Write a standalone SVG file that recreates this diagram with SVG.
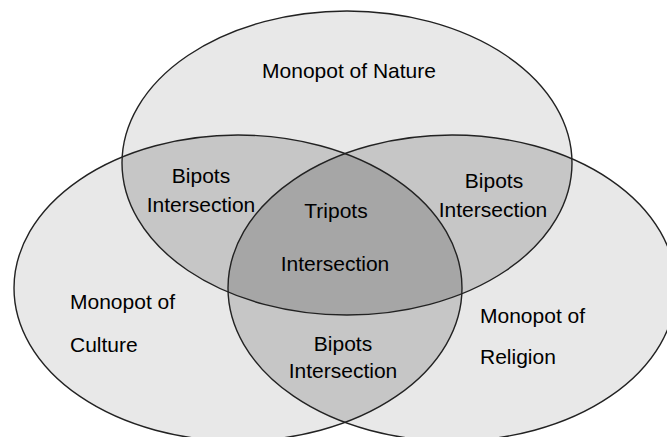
<svg xmlns="http://www.w3.org/2000/svg" width="667" height="437" viewBox="0 0 667 437">
<style>
.base{fill:#e8e8e8;stroke:none}
.bi{fill:#c6c6c6;stroke:none}
.tri{fill:#a6a6a6;stroke:none}
.edge{fill:none;stroke:#222;stroke-width:1.4}
text{font-family:"Liberation Sans",Arial,sans-serif;font-size:21px;fill:#000;text-anchor:middle}
</style>
<defs>
<ellipse id="eN" cx="347" cy="163" rx="225" ry="152"/>
<ellipse id="eC" cx="238" cy="288" rx="224" ry="153"/>
<ellipse id="eR" cx="452" cy="288" rx="224" ry="153"/>
<clipPath id="cN"><use href="#eN"/></clipPath>
<clipPath id="cC"><use href="#eC"/></clipPath>
<clipPath id="cR"><use href="#eR"/></clipPath>
</defs>
<rect width="667" height="437" fill="#fff"/>
<g id="regions">
<use href="#eN" class="base"/>
<use href="#eC" class="base"/>
<use href="#eR" class="base"/>
<g clip-path="url(#cN)"><use href="#eC" class="bi"/><use href="#eR" class="bi"/></g>
<g clip-path="url(#cC)"><use href="#eR" class="bi"/></g>
<g clip-path="url(#cN)"><g clip-path="url(#cC)"><use href="#eR" class="tri"/></g></g>
</g>
<g id="nature"><use href="#eN" class="edge"/><text x="349" y="78">Monopot of Nature</text></g>
<g id="culture"><use href="#eC" class="edge"/><text x="70" y="309" style="text-anchor:start">Monopot of</text><text x="70" y="352" style="text-anchor:start">Culture</text></g>
<g id="religion"><use href="#eR" class="edge"/><text x="480" y="323" style="text-anchor:start">Monopot of</text><text x="480" y="364" style="text-anchor:start">Religion</text></g>
<g id="bipots-nc"><text x="201" y="183">Bipots</text><text x="201" y="212">Intersection</text></g>
<g id="bipots-nr"><text x="494" y="188">Bipots</text><text x="493" y="217">Intersection</text></g>
<g id="tripots"><text x="336" y="218">Tripots</text><text x="335" y="271">Intersection</text></g>
<g id="bipots-cr"><text x="343" y="351">Bipots</text><text x="343" y="378">Intersection</text></g>
<g id="connectors"></g>
</svg>
